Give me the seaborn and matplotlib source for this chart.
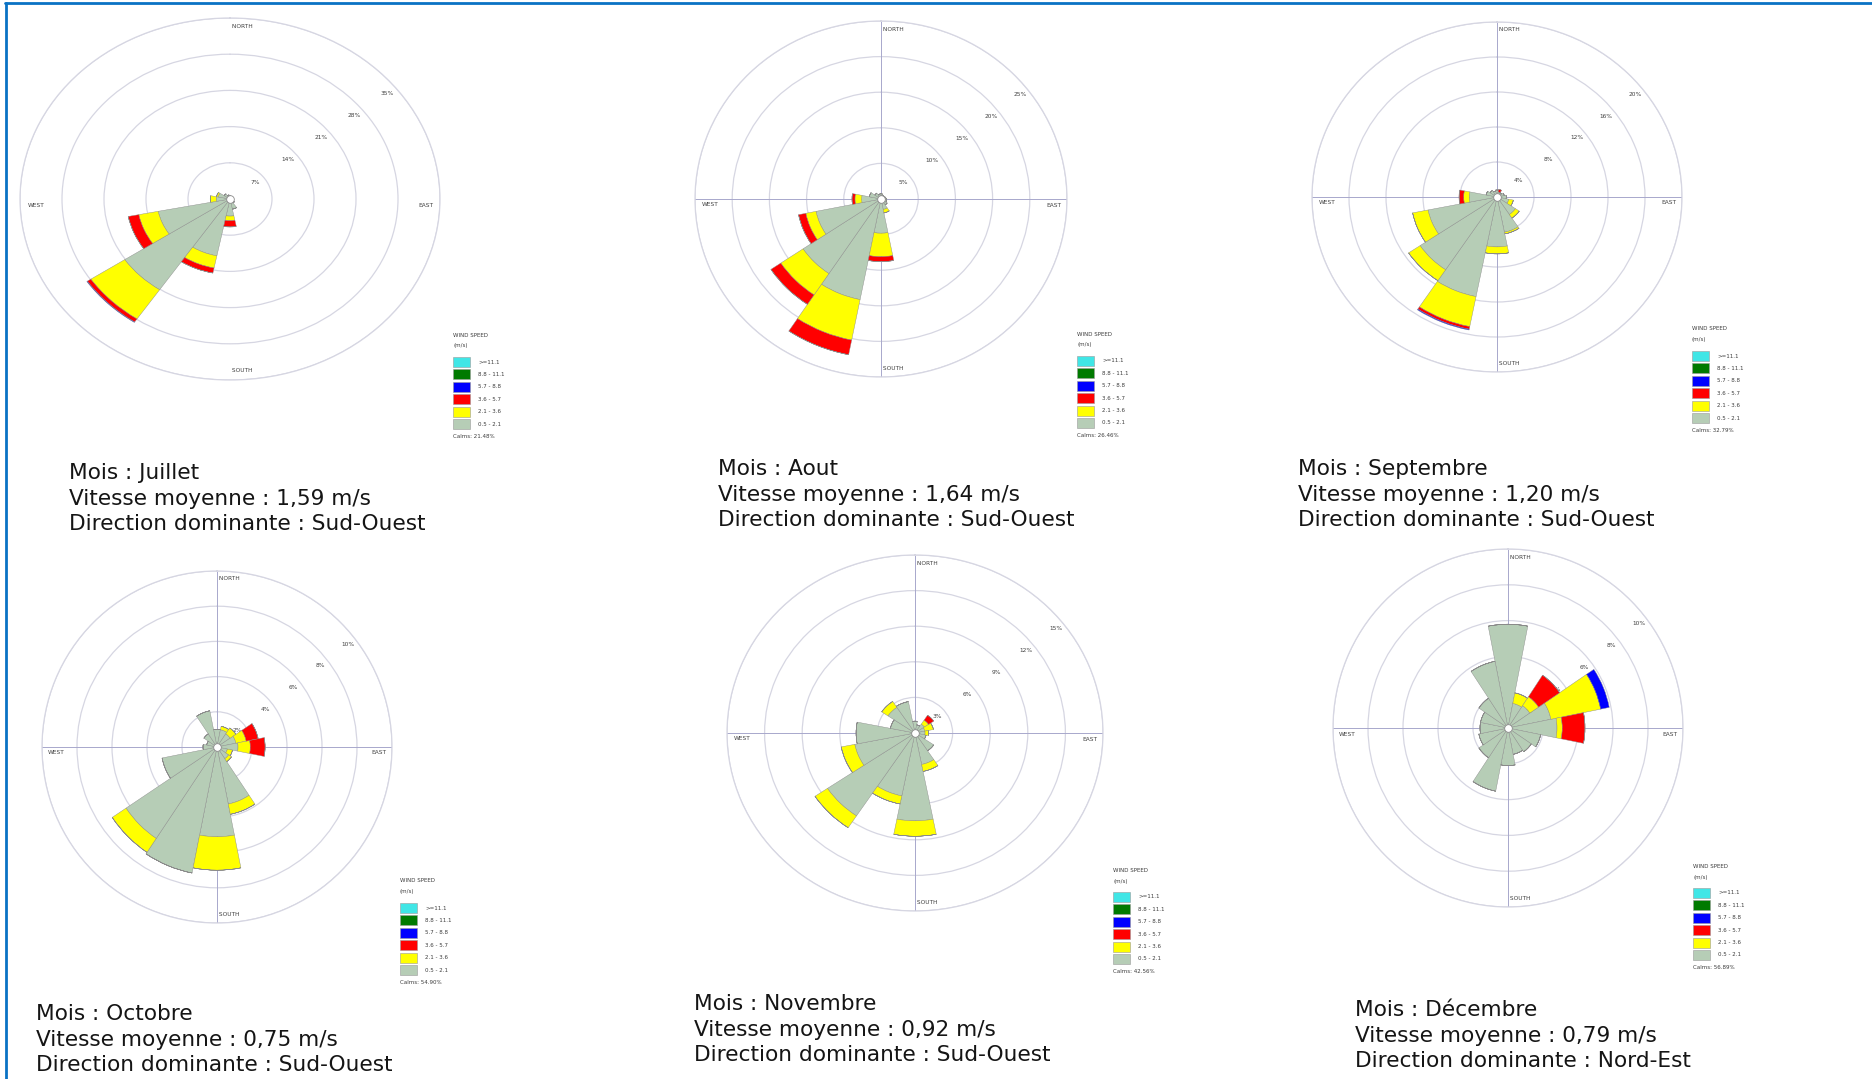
import numpy as np
import matplotlib
matplotlib.use("Agg")
import matplotlib.pyplot as plt
import seaborn as sns
from matplotlib.patches import Rectangle
from matplotlib.lines import Line2D

sns.set_theme(style="white")
plt.rcParams["font.family"] = ["DejaVu Sans"]

# ---------------------------------------------------------------- data
directions = ["N", "NNE", "NE", "ENE", "E", "ESE", "SE", "SSE",
              "S", "SSW", "SW", "WSW", "W", "WNW", "NW", "NNW"]
speed_classes = [">=11.1", "8.8 - 11.1", "5.7 - 8.8", "3.6 - 5.7", "2.1 - 3.6", "0.5 - 2.1"]

months = ["Juillet", "Aout", "Septembre", "Octobre", "Novembre", "Décembre"]
mean_speeds = ["1,59", "1,64", "1,20", "0,75", "0,92", "0,79"]
dominant_dirs = ["Sud-Ouest", "Sud-Ouest", "Sud-Ouest", "Sud-Ouest", "Sud-Ouest", "Nord-Est"]
calms = ["21.48%", "26.46%", "32.79%", "54.90%", "42.56%", "56.89%"]
ring_steps = [7, 5, 4, 2, 3, 2]

# frequency (%) per direction, one list per speed class (m/s)
jul_05_21 = [0.6, 0.5, 0.4, 0.4, 0.5, 0.6, 0.9, 2.0, 3.3, 11.2, 21.1, 12.2, 2.3, 2.0, 1.2, 0.8]
jul_21_36 = [0, 0, 0, 0, 0, 0, 0, 0, 0.9, 2.4, 6.8, 3.3, 1.0, 0.3, 0, 0]
jul_36_57 = [0, 0, 0, 0, 0, 0, 0, 0, 1.2, 1.0, 0.7, 1.8, 0, 0, 0, 0]
jul_57_88 = [0, 0, 0, 0, 0, 0, 0, 0, 0, 0, 0.1, 0, 0, 0, 0, 0]

aug_05_21 = [0.8, 0.6, 0.5, 0.6, 0.7, 0.8, 1.0, 1.5, 4.8, 14.4, 12.6, 8.9, 2.6, 1.6, 1.0, 0.7]
aug_21_36 = [0, 0, 0, 0, 0, 0, 0, 0.5, 3.3, 5.8, 3.6, 1.4, 0.9, 0, 0, 0]
aug_36_57 = [0, 0, 0, 0, 0, 0, 0, 0, 0.7, 2.1, 1.6, 1.0, 0.4, 0, 0, 0]
aug_57_88 = [0, 0, 0, 0, 0, 0, 0, 0, 0, 0, 0, 0, 0, 0, 0, 0]

sep_05_21 = [0.8, 0.6, 0.6, 0.8, 1.0, 1.3, 2.4, 4.1, 5.7, 11.6, 10.0, 7.6, 3.0, 1.2, 0.9, 0.7]
sep_21_36 = [0, 0, 0, 0, 0, 0.5, 0.5, 0.2, 0.8, 3.5, 1.5, 1.7, 0.6, 0, 0, 0]
sep_36_57 = [0, 0.3, 0, 0, 0, 0, 0, 0, 0, 0.3, 0, 0, 0.5, 0, 0, 0]
sep_57_88 = [0, 0, 0, 0, 0, 0, 0, 0, 0, 0.1, 0, 0, 0, 0, 0, 0]

oct_05_21 = [1.0, 1.0, 0.9, 1.1, 1.2, 0.6, 0.8, 3.3, 5.1, 7.3, 6.25, 3.2, 0.8, 0.6, 0.9, 2.1]
oct_21_36 = [0, 0.2, 0.4, 0.6, 0.7, 0.3, 0.2, 0.6, 1.9, 0, 0.95, 0, 0, 0, 0, 0]
oct_36_57 = [0, 0, 0, 0.7, 0.85, 0, 0, 0, 0, 0, 0, 0, 0, 0, 0, 0]
oct_57_88 = [0, 0, 0, 0, 0, 0, 0, 0, 0, 0, 0, 0, 0, 0, 0, 0]

nov_05_21 = [1.0, 0.7, 0.9, 0.8, 0.8, 0.9, 1.8, 2.7, 7.4, 5.4, 8.4, 4.9, 4.7, 2.0, 2.6, 2.7]
nov_21_36 = [0, 0, 0.4, 0.7, 0.3, 0, 0, 0.6, 1.3, 0.7, 1.2, 1.1, 0, 0, 0.6, 0]
nov_36_57 = [0, 0, 0.5, 0, 0, 0, 0, 0, 0, 0, 0, 0, 0, 0, 0, 0]
nov_57_88 = [0, 0, 0, 0, 0, 0, 0, 0, 0, 0, 0, 0, 0, 0, 0, 0]

dec_05_21 = [5.8, 1.4, 1.5, 2.5, 2.8, 1.9, 1.6, 1.5, 2.1, 3.6, 2.0, 1.7, 1.6, 1.6, 2.0, 3.8]
dec_21_36 = [0, 0.6, 0.6, 2.9, 0.3, 0, 0, 0, 0, 0, 0, 0, 0, 0, 0, 0]
dec_36_57 = [0, 0, 1.45, 0, 1.3, 0, 0, 0, 0, 0, 0, 0, 0, 0, 0, 0]
dec_57_88 = [0, 0, 0, 0.5, 0, 0, 0, 0, 0, 0, 0, 0, 0, 0, 0, 0]

month_classes = [
    [jul_05_21, jul_21_36, jul_36_57, jul_57_88],
    [aug_05_21, aug_21_36, aug_36_57, aug_57_88],
    [sep_05_21, sep_21_36, sep_36_57, sep_57_88],
    [oct_05_21, oct_21_36, oct_36_57, oct_57_88],
    [nov_05_21, nov_21_36, nov_36_57, nov_57_88],
    [dec_05_21, dec_21_36, dec_36_57, dec_57_88],
]

# ---------------------------------------------------------------- styling / layout
W, H = 1872, 1079
DPI = 100
# colours from the lowest to the highest speed class
CLASS_COLORS = ["#b6cdb6", "#ffff00", "#ff0000", "#0000ff", "#007a00", "#40e6e6"]
RING_COLOR = "#d6d6e2"
AXIS_COLOR = "#a8a8cc"
TEXT_COLOR = "#151515"

# rose centre x, centre y, x radius, y radius (pixels)
rose_geom = [
    (230, 199, 210, 181),
    (881, 199, 186, 178),
    (1497, 197, 185, 175),
    (217, 747, 175, 176),
    (915, 733, 188, 178),
    (1508, 728, 175, 179),
]
show_cross = [False, True, True, True, True, True]
legend_pos = [(453, 331), (1077, 330), (1692, 325), (400, 877), (1113, 866), (1693, 862)]
text_pos = [(69, 473), (718, 469), (1298, 469), (36, 1014), (694, 1004), (1355, 1010)]

fig = plt.figure(figsize=(W / DPI, H / DPI), dpi=DPI)
fig.patch.set_facecolor("white")


def fx(x):
    return x / W


def fy(y):
    return 1 - y / H


def draw_rose(geom, step, classes, cross):
    cx, cy, rx, ry = geom
    ax = fig.add_axes([fx(cx - rx), fy(cy + ry), 2 * rx / W, 2 * ry / H],
                      projection="polar")
    ax.set_aspect("auto")
    ax.set_facecolor("white")
    ax.set_theta_zero_location("N")
    ax.set_theta_direction(-1)
    rmax = 5 * step
    theta = np.deg2rad(np.arange(len(directions)) * 22.5)
    width = np.deg2rad(22.5)
    bottom = np.zeros(len(directions))
    for vals, color in zip(classes, CLASS_COLORS):
        vals = np.asarray(vals, dtype=float)
        ax.bar(theta, vals, width=width, bottom=bottom, color=color,
               edgecolor="#8a8a8a", linewidth=0.3, zorder=3, align="center")
        bottom += vals
    ax.set_ylim(0, rmax)
    ax.set_xticks([])
    ax.set_yticks(np.arange(1, 6) * step)
    ax.set_yticklabels([])
    ax.tick_params(length=0)
    ax.grid(True, color=RING_COLOR, linewidth=0.9)
    ax.set_axisbelow(True)
    ax.spines["polar"].set_color(RING_COLOR)
    ax.spines["polar"].set_linewidth(0.9)
    if cross:
        for a in (0, 90, 180, 270):
            ax.plot([np.deg2rad(a)] * 2, [0, rmax], color=AXIS_COLOR, lw=0.7, zorder=1)
    # ring labels on the north-east diagonal
    for k in range(1, 6):
        v = k * step
        ax.text(np.deg2rad(52), v - 0.05 * rmax, f"{v}%", fontsize=4.2,
                color="#404040", ha="center", va="center", zorder=2)
    kw = dict(fontsize=4.2, color="#404040", zorder=2)
    ax.text(0, rmax * 0.955, " NORTH", ha="left", va="center", **kw)
    ax.text(np.pi, rmax * 0.95, " SOUTH", ha="left", va="center", **kw)
    ax.text(np.deg2rad(268), rmax * 0.965, "WEST", ha="left", va="center", **kw)
    ax.text(np.deg2rad(92), rmax * 0.97, "EAST", ha="right", va="center", **kw)
    # calm hub
    ax.plot([0], [0], "o", ms=5.5, mfc="white", mec="#8a8a8a", mew=0.6, zorder=6)
    return ax


def draw_legend(x0, y0, calm_text):
    kw = dict(fontsize=4.0, color="#3c3c3c", va="center", ha="left")
    fig.text(fx(x0), fy(y0 + 4), "WIND SPEED", **kw)
    fig.text(fx(x0), fy(y0 + 15), "(m/s)", **kw)
    step = 12.4
    for i, (lab, col) in enumerate(zip(speed_classes, CLASS_COLORS[::-1])):
        top = y0 + 26 + i * step
        fig.add_artist(Rectangle((fx(x0), fy(top + 10)), 17 / W, 10 / H,
                                 transform=fig.transFigure, facecolor=col,
                                 edgecolor="#9a9a9a", linewidth=0.4))
        fig.text(fx(x0 + 25), fy(top + 5), lab, **kw)
    fig.text(fx(x0), fy(y0 + 26 + 6 * step + 5), f"Calms: {calm_text}", **kw)


for i in range(6):
    draw_rose(rose_geom[i], ring_steps[i], month_classes[i], show_cross[i])
    draw_legend(*legend_pos[i], calms[i])
    tx, ty = text_pos[i]
    lines = [f"Mois : {months[i]}",
             f"Vitesse moyenne : {mean_speeds[i]} m/s",
             f"Direction dominante : {dominant_dirs[i]}"]
    for j, line in enumerate(lines):
        fig.text(fx(tx), fy(ty + j * 25.7), line, fontsize=15.6,
                 color=TEXT_COLOR, ha="left", va="center")

# blue frame along the top and the left side
fig.add_artist(Line2D([fx(5), 1], [fy(3), fy(3)], color="#0a72c4", lw=2.0,
                      transform=fig.transFigure))
fig.add_artist(Line2D([fx(6), fx(6)], [0, fy(3)], color="#0a72c4", lw=2.0,
                      transform=fig.transFigure))

fig.savefig("out.png", dpi=DPI, facecolor="white")
